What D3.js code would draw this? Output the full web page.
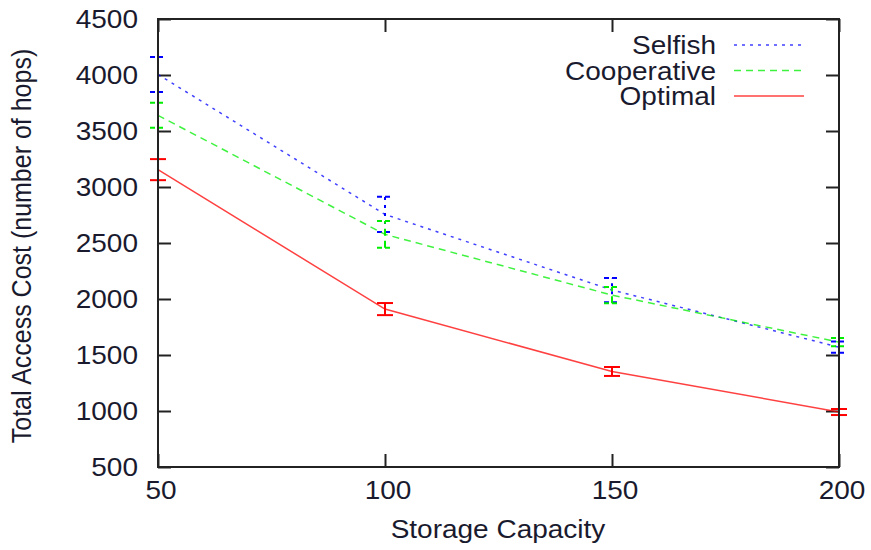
<!DOCTYPE html>
<html>
<head>
<meta charset="utf-8">
<script src="https://cdn.jsdelivr.net/npm/d3@7"></script>
<style>
  body { margin: 0; background: #fff; }
  text { font-family: "Liberation Sans", Arial, sans-serif; fill: #1a1a2e; }
</style>
</head>
<body>
<div id="chart"></div>
<script>
// chart values
const capacity = [50, 100, 150, 200];
const selfish = [4005, 2755, 2080, 1570];
const selfishErr = [156, 157, 108, 50];
const cooperative = [3640, 2577, 2035, 1615];
const cooperativeErr = [112, 120, 72, 36];
const optimal = [3155, 1910, 1353, 991];
const optimalErr = [94, 54, 40, 27];
const yTicks = [500, 1000, 1500, 2000, 2500, 3000, 3500, 4000, 4500];
const xTicks = [50, 100, 150, 200];

const seriesList = [
    { name: 'Selfish', values: selfish, err: selfishErr, color: '#0000ff', dash: '3,5' },
    { name: 'Cooperative', values: cooperative, err: cooperativeErr, color: '#00ee00', dash: '7,5' },
    { name: 'Optimal', values: optimal, err: optimalErr, color: '#ff0000', dash: null }
];

const width = 871, height = 550;
const plotLeft = 158, plotRight = 839, plotTop = 19, plotBottom = 467;
const sx = 1.12; // horizontal stretch of the text in the original

const svg = d3.select('#chart').append('svg')
    .attr('width', width)
    .attr('height', height);

const x = d3.scaleLinear().domain([50, 200]).range([plotLeft, plotRight]);
const y = d3.scaleLinear().domain([500, 4500]).range([plotBottom, plotTop]);

// ticks on all four sides, pointing inward
const tickLen = 13;
const axisColor = '#222';
function styleTicks(g) {
    g.select('.domain').remove();
    g.selectAll('line').attr('stroke', axisColor).attr('stroke-width', 2);
}
svg.append('g')
    .attr('transform', `translate(${plotLeft},0)`)
    .call(d3.axisRight(y).tickValues(yTicks).tickSize(tickLen).tickFormat(''))
    .call(styleTicks);
svg.append('g')
    .attr('transform', `translate(${plotRight},0)`)
    .call(d3.axisLeft(y).tickValues(yTicks).tickSize(tickLen).tickFormat(''))
    .call(styleTicks);
svg.append('g')
    .attr('transform', `translate(0,${plotBottom})`)
    .call(d3.axisTop(x).tickValues(xTicks).tickSize(tickLen).tickFormat(''))
    .call(styleTicks);
svg.append('g')
    .attr('transform', `translate(0,${plotTop})`)
    .call(d3.axisBottom(x).tickValues(xTicks).tickSize(tickLen).tickFormat(''))
    .call(styleTicks);

// tick labels
svg.selectAll('.ylabel')
    .data(yTicks)
    .enter().append('text')
    .attr('class', 'ylabel')
    .attr('transform', d => `translate(138,${y(d) + 9}) scale(${sx},1)`)
    .attr('text-anchor', 'end')
    .style('font-size', '25px')
    .text(d => d);

svg.selectAll('.xlabel')
    .data(xTicks)
    .enter().append('text')
    .attr('class', 'xlabel')
    .attr('transform', d => `translate(${x(d) + 3},499) scale(${sx},1)`)
    .attr('text-anchor', 'middle')
    .style('font-size', '25px')
    .text(d => d);

// axis titles
svg.append('text')
    .attr('transform', `translate(498,538) scale(${sx},1)`)
    .attr('text-anchor', 'middle')
    .style('font-size', '25px')
    .text('Storage Capacity');

svg.append('text')
    .attr('transform', `translate(31,246) scale(${sx},1) rotate(-90)`)
    .attr('text-anchor', 'middle')
    .style('font-size', '25px')
    .text('Total Access Cost (number of hops)');

// series lines and error bars
const line = d3.line()
    .x((d, i) => x(capacity[i]))
    .y(d => y(d));

const capW = 8;
seriesList.forEach(function(s) {
    const g = svg.append('g');
    g.append('path')
        .datum(s.values)
        .attr('d', line)
        .attr('fill', 'none')
        .attr('stroke', s.color)
        .attr('stroke-width', 1.5)
        .attr('stroke-opacity', 0.75)
        .attr('stroke-dasharray', s.dash);

    const bars = g.selectAll('.err')
        .data(s.values.map((v, i) => ({ cx: capacity[i], v: v, e: s.err[i] })))
        .enter().append('g');
    bars.append('line')
        .attr('x1', d => x(d.cx)).attr('x2', d => x(d.cx))
        .attr('y1', d => y(d.v - d.e)).attr('y2', d => y(d.v + d.e))
        .attr('stroke', s.color).attr('stroke-width', 2)
        .attr('stroke-dasharray', s.dash);
    bars.append('line')
        .attr('x1', d => x(d.cx) - capW).attr('x2', d => x(d.cx) + capW)
        .attr('y1', d => y(d.v + d.e)).attr('y2', d => y(d.v + d.e))
        .attr('stroke', s.color).attr('stroke-width', 2)
        .attr('stroke-dasharray', s.dash ? '5,3' : null);
    bars.append('line')
        .attr('x1', d => x(d.cx) - capW).attr('x2', d => x(d.cx) + capW)
        .attr('y1', d => y(d.v - d.e)).attr('y2', d => y(d.v - d.e))
        .attr('stroke', s.color).attr('stroke-width', 2)
        .attr('stroke-dasharray', s.dash ? '5,3' : null);
});

// frame
svg.append('rect')
    .attr('x', plotLeft).attr('y', plotTop)
    .attr('width', plotRight - plotLeft).attr('height', plotBottom - plotTop)
    .attr('fill', 'none')
    .attr('stroke', axisColor)
    .attr('stroke-width', 2);

// legend
const legend = svg.selectAll('.legend')
    .data(seriesList)
    .enter().append('g')
    .attr('class', 'legend')
    .attr('transform', (d, i) => `translate(0,${45 + i * 25.5})`);
legend.append('text')
    .attr('transform', `translate(716,9) scale(${sx},1)`)
    .attr('text-anchor', 'end')
    .style('font-size', '25px')
    .text(d => d.name);
legend.append('line')
    .attr('x1', 734).attr('x2', 804)
    .attr('y1', 0).attr('y2', 0)
    .attr('stroke', d => d.color)
    .attr('stroke-width', 1.5)
    .attr('stroke-opacity', 0.75)
    .attr('stroke-dasharray', d => d.dash);
</script>
</body>
</html>
